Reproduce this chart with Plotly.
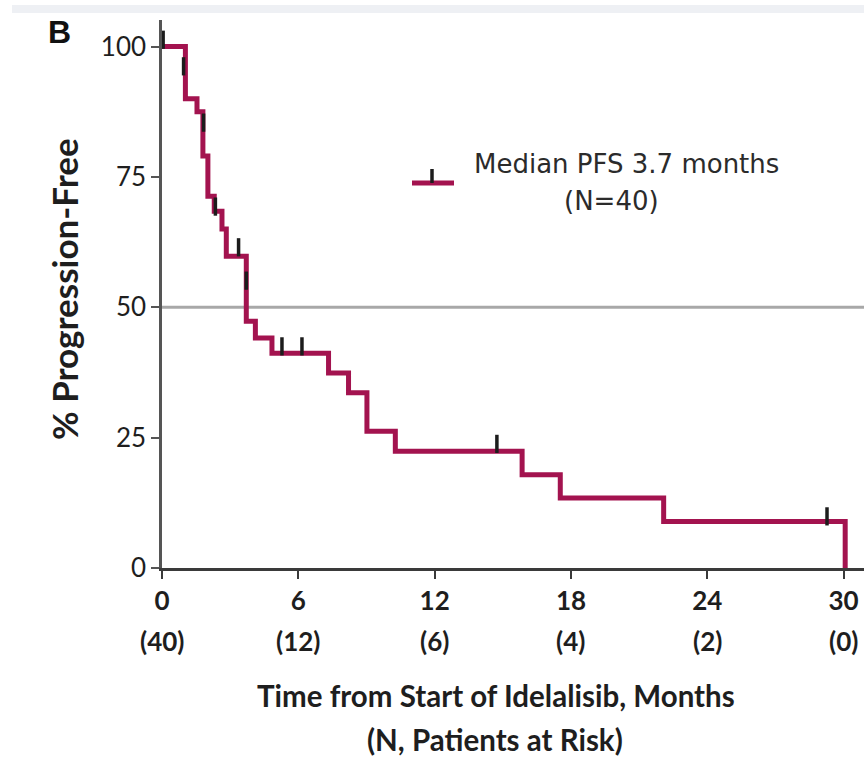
import plotly.graph_objects as go

# ---------------- data ----------------
months = [0, 1.03, 1.54, 1.80, 2.02, 2.30, 2.64, 2.83, 3.71, 4.11, 4.84,
          7.33, 8.21, 9.02, 10.27, 15.85, 17.53, 22.08, 30.07]
pfs = [100, 90, 87.5, 79, 71.3, 68.4, 65, 59.8, 47.3, 44.1, 41.2,
       37.4, 33.6, 26.2, 22.4, 17.9, 13.4, 8.9, 0]
censor_months = [0.05, 0.95, 1.83, 2.35, 3.37, 3.71, 5.28, 6.16, 14.74, 29.27]
censor_pfs = [101.3, 96.2, 85.4, 69.3, 61.5, 55.1, 42.5, 42.5, 23.8, 9.9]
x_ticks = [0, 6, 12, 18, 24, 30]
at_risk = [40, 12, 6, 4, 2, 0]
y_ticks = [0, 25, 50, 75, 100]
median_line = 50

# ---------------- style ----------------
W, H = 864, 778
PL, PR, PT, PB = 162, 864, 20, 568
CURVE = "#A3134F"
AXIS = "#3a3a3a"
TXT = "#1e1e1e"
SANS = "Lato"


def px(x):
    return (x - PL) / (PR - PL)


def py(y):
    return (PB - y) / (PB - PT)


fig = go.Figure()
fig.add_trace(go.Scatter(x=months, y=pfs, mode="lines",
                         line=dict(color=CURVE, width=5, shape="hv"),
                         showlegend=False, hoverinfo="skip"))
fig.add_trace(go.Scatter(x=censor_months, y=censor_pfs, mode="markers",
                         marker=dict(symbol="line-ns", size=13, color="#1c1c1c",
                                     line=dict(color="#1c1c1c", width=3.5)),
                         showlegend=False, hoverinfo="skip"))
fig.add_hline(y=median_line, line=dict(color="#a8a8a8", width=3), layer="below")

axis_common = dict(showline=True, linewidth=2.5, ticks="outside",
                   ticklen=8, tickwidth=2, showgrid=False,
                   zeroline=False, fixedrange=True)

fig.update_layout(
    width=W, height=H,
    margin=dict(l=PL, r=W - PR, t=PT, b=H - PB),
    paper_bgcolor="white", plot_bgcolor="white",
    xaxis=dict(range=[0, (PR - PL) / 22.72], tickvals=x_ticks,
               ticktext=[str(v) for v in x_ticks], linecolor=AXIS, tickcolor=AXIS,
               tickfont=dict(family=SANS, size=26, color=TXT, weight="bold"),
               **axis_common),
    yaxis=dict(range=[0, (PB - PT) / 5.215], tickvals=y_ticks,
               ticktext=[str(v) for v in y_ticks], linecolor="#555", tickcolor="#555",
               tickfont=dict(family=SANS, size=26, color=TXT),
               **axis_common),
)

ann = []
# panel letter
ann.append(dict(text="<b>B</b>", x=px(59.5), y=py(31.5), xref="paper", yref="paper",
                showarrow=False, xanchor="center", yanchor="middle",
                font=dict(family="Liberation Sans", size=32, color="#111")))
# y title
ann.append(dict(text="<b>% Progression-Free</b>", x=px(64), y=py(289), xref="paper",
                yref="paper", showarrow=False, textangle=-90, xanchor="center",
                yanchor="middle", font=dict(family=SANS, size=35, color=TXT)))
# x title
ann.append(dict(text="<b>Time from Start of Idelalisib, Months</b>", x=px(496), y=py(695),
                xref="paper", yref="paper", showarrow=False, xanchor="center",
                yanchor="middle", font=dict(family=SANS, size=29.5, color=TXT)))
ann.append(dict(text="<b>(N, Patients at Risk)</b>", x=px(495), y=py(739),
                xref="paper", yref="paper", showarrow=False, xanchor="center",
                yanchor="middle", font=dict(family=SANS, size=29.5, color=TXT)))
# patients at risk
for t, n in zip(x_ticks, at_risk):
    ann.append(dict(text=f"<b>({n})</b>", x=t, y=py(641), xref="x", yref="paper",
                    showarrow=False, xanchor="center", yanchor="middle",
                    font=dict(family=SANS, size=26, color=TXT)))
# legend text
ann.append(dict(text="Median PFS 3.7 months", x=px(626), y=py(164), xref="paper",
                yref="paper", showarrow=False, xanchor="center", yanchor="middle",
                font=dict(family="DejaVu Sans", size=26, color="#2b2b2b")))
ann.append(dict(text="(N=40)", x=px(611), y=py(201), xref="paper",
                yref="paper", showarrow=False, xanchor="center", yanchor="middle",
                font=dict(family="DejaVu Sans", size=26, color="#2b2b2b")))
fig.update_layout(annotations=ann)

shapes = [
    # light band at the very top of the image
    dict(type="rect", xref="paper", yref="paper", x0=px(12), x1=px(W), y0=py(13), y1=py(5),
         fillcolor="#eef0f4", line=dict(width=0), layer="below"),
    # legend sample line + censor tick
    dict(type="line", xref="paper", yref="paper", x0=px(412), x1=px(454), y0=py(183), y1=py(183),
         line=dict(color=CURVE, width=5)),
    dict(type="line", xref="paper", yref="paper", x0=px(432), x1=px(432), y0=py(169), y1=py(183),
         line=dict(color="#1c1c1c", width=3.5)),
]
for s in shapes:
    fig.add_shape(**s)

fig.write_html("out.html")
